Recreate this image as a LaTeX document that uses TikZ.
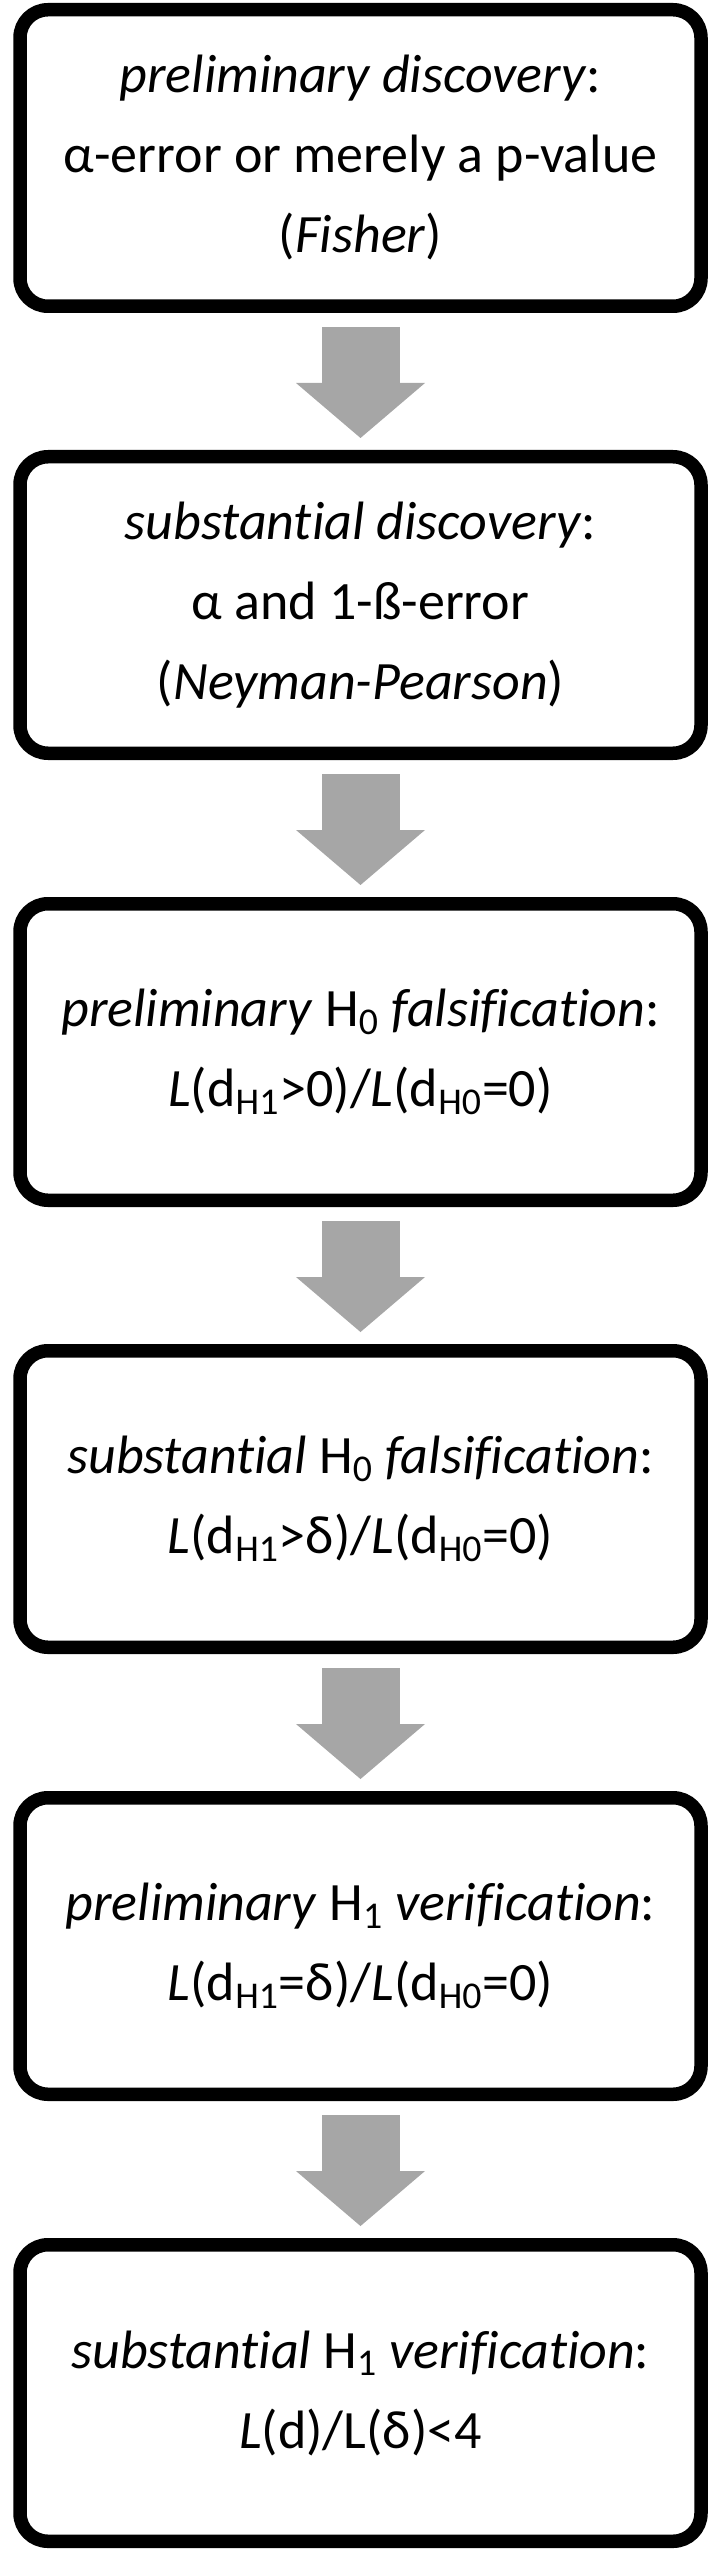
\documentclass[tikz,border=0pt]{standalone}
\usepackage{fontspec}
\setmainfont{Carlito}[Ligatures=CommonOff]
\usepackage{tikz}
\usetikzlibrary{positioning,arrows.meta}
\definecolor{arrowgray}{HTML}{A6A6A6}

\begin{document}
\begin{tikzpicture}[thick, node distance=75.25pt,
    box/.style={draw, line width=6.75pt, rounded corners=14pt, outer sep=0pt,
        minimum width=340.5pt, minimum height=148.25pt, align=center,
        font=\fontsize{27pt}{40pt}\selectfont},
    flow/.style={arrowgray, line width=39pt,
        -{Triangle[width=64.5pt,length=27.5pt,line width=0pt]},
        shorten <=10.375pt, shorten >=9.375pt}]

    \useasboundingbox (0,0) rectangle (360.5pt,-1275.5pt);

    % 六个方框
    \node (b1) [box] at (180.25pt,-79pt) {\textit{preliminary discovery}:\\ α-error or merely a p-value\\ (\textit{Fisher})};
    \node (b2) [box, below=of b1] {\textit{substantial discovery}:\\ α and 1-ß-error\\ (\textit{Neyman-Pearson})};
    \node (b3) [box, below=of b2] {\textit{preliminary} H\textsubscript{0} \textit{falsification}:\\ \textit{L}(d\textsubscript{H1}>0)/\textit{L}(d\textsubscript{H0}=0)};
    \node (b4) [box, below=of b3] {\textit{substantial} H\textsubscript{0} \textit{falsification}:\\ \textit{L}(d\textsubscript{H1}>δ)/\textit{L}(d\textsubscript{H0}=0)};
    \node (b5) [box, below=of b4] {\textit{preliminary} H\textsubscript{1} \textit{verification}:\\ \textit{L}(d\textsubscript{H1}=δ)/\textit{L}(d\textsubscript{H0}=0)};
    \node (b6) [box, below=of b5] {\textit{substantial} H\textsubscript{1} \textit{verification}:\\ \textit{L}(d)/L(δ)<4};

    \draw[flow] (b1) -- (b2);
    \draw[flow] (b2) -- (b3);
    \draw[flow] (b3) -- (b4);
    \draw[flow] (b4) -- (b5);
    \draw[flow] (b5) -- (b6);

\end{tikzpicture}
\end{document}
